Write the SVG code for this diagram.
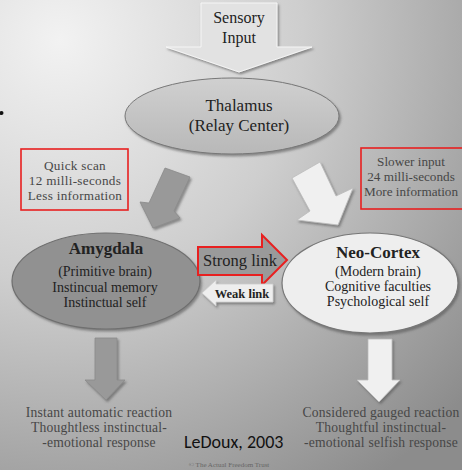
<svg xmlns="http://www.w3.org/2000/svg" width="462" height="470" viewBox="0 0 462 470">
<defs>
<radialGradient id="bg" gradientUnits="userSpaceOnUse" cx="60" cy="40" r="540">
<stop offset="0" stop-color="#f2f2f2"/>
<stop offset="0.45" stop-color="#cecece"/>
<stop offset="1" stop-color="#8c8c8c"/>
</radialGradient>
<linearGradient id="gThal" x1="0" y1="0" x2="0" y2="1">
<stop offset="0" stop-color="#d0d0d0"/>
<stop offset="1" stop-color="#b8b8b8"/>
</linearGradient>
<filter id="sh" x="-10%" y="-10%" width="130%" height="130%">
<feDropShadow dx="1.5" dy="2" stdDeviation="1" flood-color="#555" flood-opacity="0.6"/>
</filter>
</defs>
<style>
.t{font-family:"Liberation Serif","Times New Roman",serif;text-anchor:middle;fill:#222}
.s{font-family:"Liberation Serif","Times New Roman",serif;text-anchor:middle;fill:#474747;font-size:13.2px;letter-spacing:0.3px}
.o{font-size:13.6px;letter-spacing:0.2px}
.b{font-weight:bold}
.box{fill:none;stroke:#e82020;stroke-width:1.6}
.grey{fill:#999;stroke:#8a8a8a;stroke-width:0.8}
.white{fill:#f0f0f0;stroke:#bbb;stroke-width:0.8}
</style>
<rect width="462" height="470" fill="url(#bg)"/>
<circle cx="1.5" cy="113" r="2" fill="#111"/>

<g id="sensory-input">
<path d="M201,3 H277 V47 H312 L239,72 L166,47 H201 Z" fill="#e2e2e2" stroke="#f6f6f6" stroke-width="1" filter="url(#sh)"/>
<text class="t" x="239" y="23" font-size="16">Sensory</text>
<text class="t" x="239" y="43" font-size="16">Input</text>
</g>

<g id="thalamus">
<ellipse cx="232" cy="116" rx="107" ry="38" fill="url(#gThal)" stroke="#777" stroke-width="1" filter="url(#sh)"/>
<text class="t" x="239" y="111" font-size="17">Thalamus</text>
<text class="t" x="239" y="131" font-size="17">(Relay Center)</text>
</g>

<g id="quick-scan">
<rect class="box" x="21" y="149" width="107" height="61"/>
<text class="s" x="75" y="170">Quick scan</text>
<text class="s" x="75" y="185">12 milli-seconds</text>
<text class="s" x="75" y="200">Less information</text>
</g>

<g id="slower-input">
<rect class="box" x="361" y="148" width="104" height="61"/>
<text class="s" x="411" y="166" style="letter-spacing:0">Slower input</text>
<text class="s" x="411" y="181" style="letter-spacing:0">24 milli-seconds</text>
<text class="s" x="411" y="196" style="letter-spacing:0">More information</text>
</g>

<g id="amygdala">
<ellipse cx="106" cy="281" rx="94" ry="48" fill="#919191" stroke="#6f6f6f" stroke-width="1.2" filter="url(#sh)"/>
<text class="t b" x="106" y="254" font-size="17">Amygdala</text>
<text class="t" x="105" y="276" font-size="14">(Primitive brain)</text>
<text class="t" x="105" y="292" font-size="14">Instincual memory</text>
<text class="t" x="105" y="307" font-size="14">Instinctual self</text>
</g>

<g id="neo-cortex">
<ellipse cx="370" cy="283" rx="88" ry="50" fill="#eeeeee" stroke="#777" stroke-width="1.2" filter="url(#sh)"/>
<text class="t b" x="378" y="258" font-size="17">Neo-Cortex</text>
<text class="t" x="378" y="276" font-size="14">(Modern brain)</text>
<text class="t" x="378" y="291" font-size="14">Cognitive faculties</text>
<text class="t" x="378" y="306" font-size="14">Psychological self</text>
</g>

<g id="connectors">
<path class="grey" d="M165,168 L190,177 L174,211 L180,218 L153,228 L140,202 L149,203 Z" filter="url(#sh)"/>
<path class="white" d="M292,178 L320,162 L336,196 L353,188 L338,225 L297,220 L310,211 Z" filter="url(#sh)"/>
<g id="strong-link">
<path d="M198,247 H262 V235 L287,260 L262,285 V275 H198 Z" fill="#9a9a9a" stroke="#e82020" stroke-width="2"/>
<text class="t" x="240" y="266" font-size="16.5">Strong link</text>
</g>
<g id="weak-link">
<path d="M273,284 H216 V280 L202,293 L216,306 V302 H273 Z" fill="#eeeeee" stroke="#ccc" stroke-width="0.8" filter="url(#sh)"/>
<text class="t b" x="242" y="298" font-size="12.5">Weak link</text>
</g>
<path class="grey" d="M95,338 H117 V380 H125 L106,400 L85,380 H95 Z" filter="url(#sh)"/>
<path class="white" d="M368,339 H392 V380 H400 L379,402 L357,380 H368 Z" filter="url(#sh)"/>
</g>

<g id="left-outcome">
<text class="s o" x="99" y="417">Instant automatic reaction</text>
<text class="s o" x="99" y="432">Thoughtless instinctual-</text>
<text class="s o" x="99" y="447">-emotional response</text>
</g>
<g id="right-outcome">
<text class="s o" x="381" y="417">Considered gauged reaction</text>
<text class="s o" x="381" y="432">Thoughtful instinctual-</text>
<text class="s o" x="381" y="447">-emotional selfish response</text>
</g>
<text x="184" y="448" font-family="Carlito,'Liberation Sans','DejaVu Sans',sans-serif" font-size="18" fill="#111">LeDoux, 2003</text>
<text x="229" y="467" text-anchor="middle" font-family="'Liberation Serif',serif" font-size="7" fill="#666">© The Actual Freedom Trust</text>
</svg>
